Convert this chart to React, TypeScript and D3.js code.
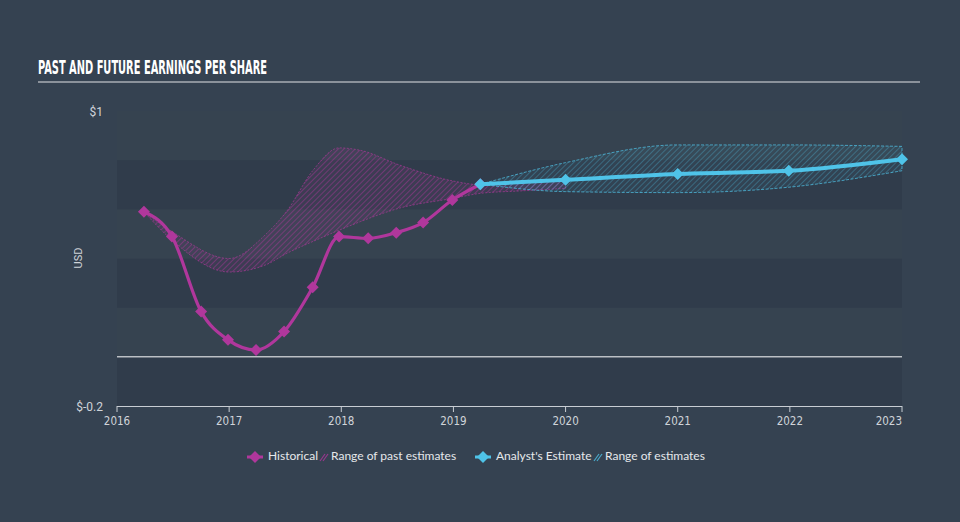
import React from "react";
import * as d3 from "d3";

const histDates = [2016.24, 2016.49, 2016.75, 2016.99, 2017.24, 2017.49, 2017.745, 2017.98, 2018.24, 2018.49, 2018.73, 2018.99, 2019.24];
const histValues = [0.59, 0.49, 0.184, 0.069, 0.028, 0.103, 0.283, 0.489, 0.482, 0.505, 0.546, 0.638, 0.702];

const pastRangeDates = [2016.24, 2016.49, 2017.0, 2017.33, 2017.51, 2017.75, 2017.98, 2018.17, 2018.52, 2019.0, 2019.24, 2019.6, 2020.0];
const pastRangeHigh = [0.59, 0.51, 0.40, 0.50, 0.59, 0.76, 0.85, 0.84, 0.78, 0.715, 0.70, 0.71, 0.72];
const pastRangeLow = [0.59, 0.475, 0.345, 0.375, 0.42, 0.47, 0.515, 0.55, 0.605, 0.645, 0.665, 0.675, 0.685];

const fcDates = [2019.24, 2020.0, 2021.0, 2021.99, 2023.0];
const fcValues = [0.702, 0.72, 0.744, 0.757, 0.804];
const fcHigh = [0.702, 0.79, 0.862, 0.862, 0.856];
const fcLow = [0.702, 0.672, 0.668, 0.69, 0.757];

const xTicks = [2016, 2017, 2018, 2019, 2020, 2021, 2022, 2023];
const yTickLabels = [{ v: 1, t: "$1" }, { v: -0.2, t: "$-0.2" }];
const bandEdges = [-0.2, 0, 0.2, 0.4, 0.6, 0.8, 1.0];

const W = 960, H = 522;
const BG = "#354251";
const DARK = "#303c4b";
const LIGHT = "#364350";
const PINK = "#b0379c";
const BLUE = "#4fc3e8";

export default function App() {
  const x = d3.scaleLinear().domain([2016, 2023]).range([117, 902]);
  const y = d3.scaleLinear().domain([-0.2, 1]).range([406, 111]);

  const line = d3.line<[number, number]>().x(d => x(d[0])).y(d => y(d[1])).curve(d3.curveMonotoneX);
  const area = d3.area<[number, number, number]>()
    .x(d => x(d[0])).y0(d => y(d[2])).y1(d => y(d[1])).curve(d3.curveMonotoneX);

  const hist = histDates.map((d, i) => [d, histValues[i]] as [number, number]);
  const fc = fcDates.map((d, i) => [d, fcValues[i]] as [number, number]);
  const past = pastRangeDates.map((d, i) => [d, pastRangeHigh[i], pastRangeLow[i]] as [number, number, number]);
  const fr = fcDates.map((d, i) => [d, fcHigh[i], fcLow[i]] as [number, number, number]);

  const diamond = (cx: number, cy: number, r: number) =>
    `M${cx},${cy - r}L${cx + r},${cy}L${cx},${cy + r}L${cx - r},${cy}Z`;

  const bands = [];
  for (let i = 0; i < bandEdges.length - 1; i++) {
    const lo = bandEdges[i], hi = bandEdges[i + 1];
    bands.push(
      <rect key={i} x={x(2016)} y={y(hi)} width={x(2023) - x(2016)} height={y(lo) - y(hi)}
        fill={i % 2 === 0 ? DARK : LIGHT} />
    );
  }

  return (
    <svg width={W} height={H} style={{ position: "absolute", left: 0, top: 0, background: BG }}>
      <defs>
        <pattern id="hpink" patternUnits="userSpaceOnUse" width="4" height="4" patternTransform="rotate(45)">
          <rect width="4" height="4" fill={PINK} fillOpacity="0.1" />
          <line x1="0" y1="0" x2="0" y2="4" stroke={PINK} strokeWidth="1.2" strokeOpacity="0.75" />
        </pattern>
        <pattern id="hblue" patternUnits="userSpaceOnUse" width="4" height="4" patternTransform="rotate(45)">
          <rect width="4" height="4" fill={BLUE} fillOpacity="0.05" />
          <line x1="0" y1="0" x2="0" y2="4" stroke={BLUE} strokeWidth="1.1" strokeOpacity="0.55" />
        </pattern>
      </defs>
      <rect x={0} y={0} width={W} height={H} fill={BG} />
      <text x={38} y={73.5} fill="#ffffff" fontFamily="'DejaVu Sans Condensed', 'DejaVu Sans', sans-serif"
        fontWeight="bold" fontSize={19} textLength={229} lengthAdjust="spacingAndGlyphs">
        PAST AND FUTURE EARNINGS PER SHARE
      </text>
      <line x1={38} x2={920} y1={82} y2={82} stroke="#a9aeb5" strokeWidth={1.5} />

      {bands}
      <line x1={x(2016)} x2={x(2023)} y1={y(0)} y2={y(0)} stroke="#ffffff" strokeWidth={1} />

      {yTickLabels.map(t => (
        <text key={t.t} x={103} y={y(t.v) + 2} fill="#d0d4d9" fontFamily="Roboto, sans-serif" fontSize={12}
          textAnchor="end" dominantBaseline="middle">{t.t}</text>
      ))}
      <text transform={`translate(79,258) rotate(-90)`} fill="#d0d4d9" fontFamily="Roboto, sans-serif" fontSize={11}
        textAnchor="middle" dominantBaseline="middle">USD</text>

      <line x1={x(2016)} x2={x(2023)} y1={406.5} y2={406.5} stroke="#c8cdd3" strokeWidth={1} />
      {xTicks.map((t, i) => (
        <g key={t}>
          <line x1={x(t)} x2={x(t)} y1={406} y2={412} stroke="#c8cdd3" strokeWidth={1} />
          <text x={x(t)} y={421} fill="#d0d4d9" fontFamily="'DejaVu Sans Condensed', sans-serif" fontSize={11.5}
            textAnchor={i === xTicks.length - 1 ? "end" : "middle"} dominantBaseline="middle">{t}</text>
        </g>
      ))}

      <path d={area(past) || ""} fill="url(#hpink)" stroke={PINK} strokeWidth={0.8} strokeDasharray="2,1.5" strokeOpacity={0.8} />
      <path d={area(fr) || ""} fill="url(#hblue)" stroke={BLUE} strokeWidth={0.8} strokeDasharray="3,1.5" strokeOpacity={0.9} />

      <path d={line(hist) || ""} fill="none" stroke={PINK} strokeWidth={3.2} />
      {hist.map((d, i) => (
        <path key={i} d={diamond(x(d[0]), y(d[1]), 6)} fill={PINK} />
      ))}
      <path d={line(fc) || ""} fill="none" stroke={BLUE} strokeWidth={4} />
      {fc.map((d, i) => (
        <path key={i} d={diamond(x(d[0]), y(d[1]), 6)} fill={BLUE} />
      ))}

      <g fontFamily="Lato, sans-serif" fontSize={12} fill="#e6e8eb">
        <path d={diamond(255, 457, 6)} fill={PINK} />
        <line x1={247} x2={263} y1={457} y2={457} stroke={PINK} strokeWidth={3} />
        <text x={268} y={457} dominantBaseline="middle">Historical</text>
        <g stroke={PINK} strokeWidth={1.2} opacity={0.8}>
          <line x1={320} x2={325} y1={461} y2={454} />
          <line x1={323} x2={328} y1={461} y2={454} />
        </g>
        <text x={331} y={457} dominantBaseline="middle">Range of past estimates</text>
        <path d={diamond(483, 457, 6)} fill={BLUE} />
        <line x1={475} x2={491} y1={457} y2={457} stroke={BLUE} strokeWidth={3} />
        <text x={496} y={457} dominantBaseline="middle">Analyst's Estimate</text>
        <g stroke={BLUE} strokeWidth={1.2} opacity={0.8}>
          <line x1={594} x2={599} y1={461} y2={454} />
          <line x1={597} x2={602} y1={461} y2={454} />
        </g>
        <text x={605} y={457} dominantBaseline="middle">Range of estimates</text>
      </g>
    </svg>
  );
}
